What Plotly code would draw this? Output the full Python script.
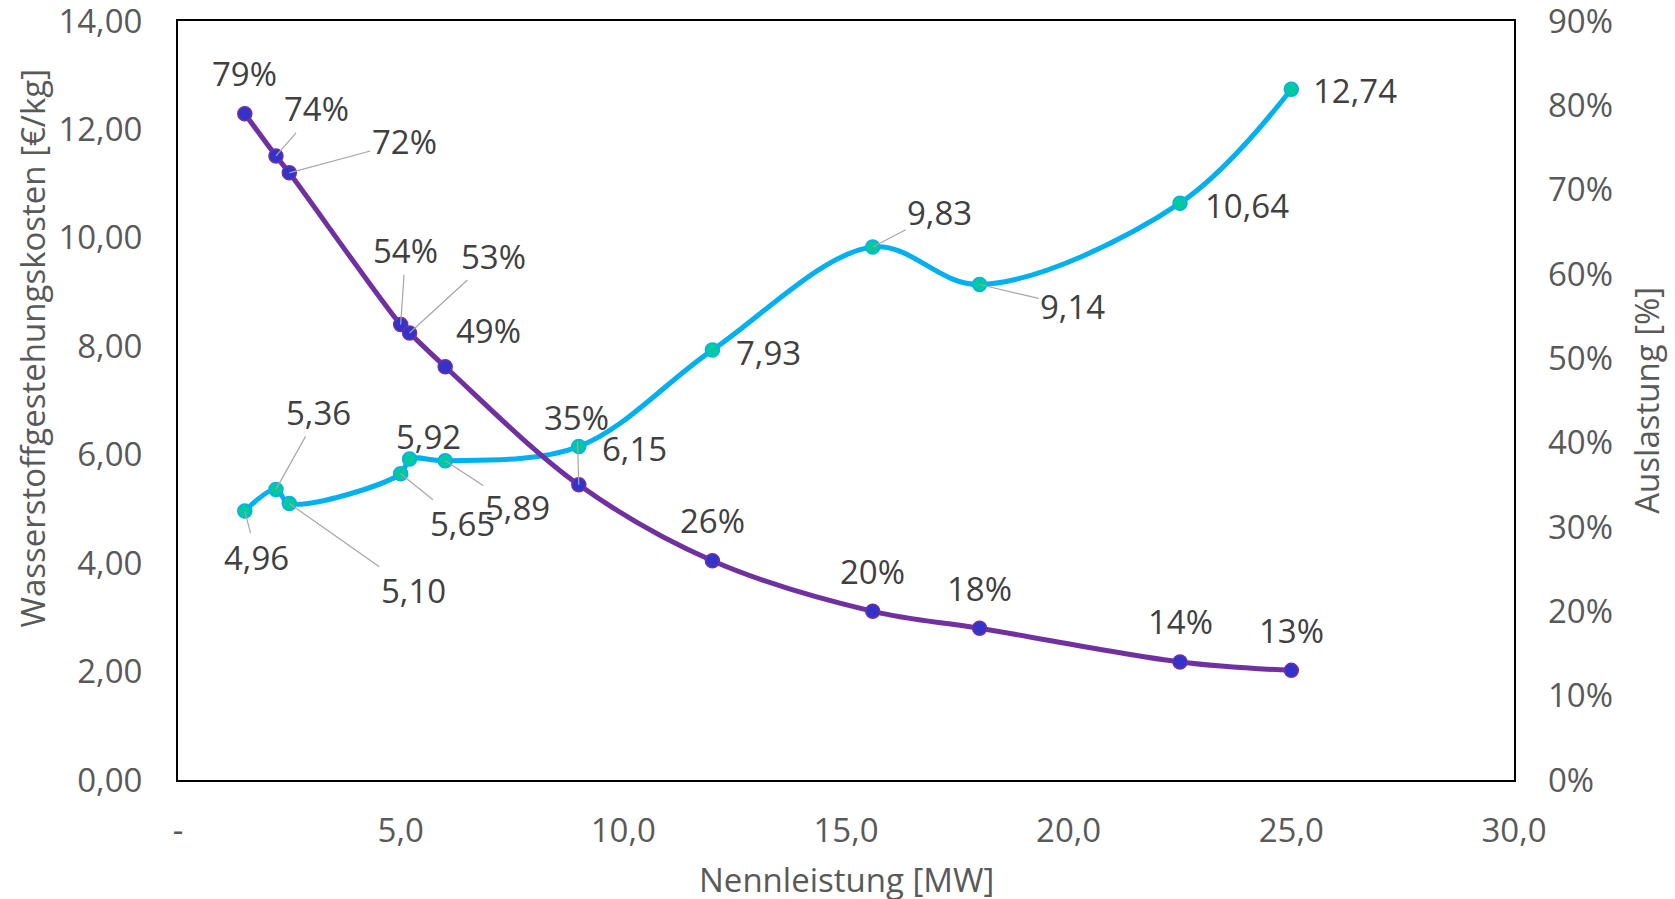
import plotly.graph_objects as go

# ---- data ----
leistung_mw = [1.5, 2.2, 2.5, 5.0, 5.2, 6.0, 9.0, 12.0, 15.6, 18.0, 22.5, 25.0]
kosten_eur_kg = [4.96, 5.36, 5.10, 5.65, 5.92, 5.89, 6.15, 7.93, 9.83, 9.14, 10.64, 12.74]
auslastung = [0.79, 0.74, 0.72, 0.54, 0.53, 0.49, 0.35, 0.26, 0.20, 0.18, 0.14, 0.13]
x_tickvals = [0, 5, 10, 15, 20, 25, 30]
x_ticktext = ["-", "5,0", "10,0", "15,0", "20,0", "25,0", "30,0"]

# ---- label styling (pixel offsets of labels, leader line flag) ----
cost_off = [(12, 46, True), (43, -77, True), (124, 87, True), (62, 50, True), (19, -23, False),
            (72, 47, True), (56, 2, False), (56, 2, False), (67, -35, True), (93, 22, True),
            (67, 2, False), (64, 1, False)]
util_off = [(0, -40, False), (41, -47, True), (115, -31, True), (5, -74, True), (84, -77, True),
            (43, -36, False), (-2, -67, True), (0, -40, False), (0, -40, False), (0, -40, False),
            (0, -40, False), (0, -40, False)]

FONT = "Open Sans"
TICK_COLOR = "#595959"
LABEL_COLOR = "#404040"
FS = 33

fig = go.Figure()
fig.add_trace(go.Scatter(
    x=leistung_mw, y=kosten_eur_kg, mode="lines+markers", yaxis="y",
    line=dict(color="#00B0F0", width=5, shape="spline", smoothing=1),
    marker=dict(size=14, color="#00C8A0", line=dict(color="#00B0F0", width=1.5)),
    showlegend=False))
fig.add_trace(go.Scatter(
    x=leistung_mw, y=auslastung, mode="lines+markers", yaxis="y2",
    line=dict(color="#7030A0", width=5, shape="spline", smoothing=1),
    marker=dict(size=14, color="#3333CC", line=dict(color="#7030A0", width=1.5)),
    showlegend=False))

annotations = []
for x, v, (dx, dy, lead) in zip(leistung_mw, kosten_eur_kg, cost_off):
    annotations.append(dict(
        x=x, y=v, xref="x", yref="y", text=f"{v:.2f}".replace(".", ","),
        showarrow=True, arrowhead=0, standoff=0, ax=dx, ay=dy,
        arrowwidth=1.2, arrowcolor="#A6A6A6" if lead else "rgba(0,0,0,0)",
        font=dict(family=FONT, size=FS, color=LABEL_COLOR)))
for x, v, (dx, dy, lead) in zip(leistung_mw, auslastung, util_off):
    annotations.append(dict(
        x=x, y=v, xref="x", yref="y2", text=f"{round(v * 100)}%",
        showarrow=True, arrowhead=0, standoff=0, ax=dx, ay=dy,
        arrowwidth=1.2, arrowcolor="#A6A6A6" if lead else "rgba(0,0,0,0)",
        font=dict(family=FONT, size=FS, color=LABEL_COLOR)))

# axis titles
annotations.append(dict(text="Wasserstoffgestehungskosten [€/kg]", xref="paper", yref="paper",
                        x=-0.109, y=0.569, textangle=-90, showarrow=False, xanchor="center", yanchor="middle",
                        font=dict(family=FONT, size=FS, color=TICK_COLOR)))
annotations.append(dict(text="Auslastung [%]", xref="paper", yref="paper",
                        x=1.099, y=0.5, textangle=-90, showarrow=False, xanchor="center", yanchor="middle",
                        font=dict(family=FONT, size=FS, color=TICK_COLOR)))
annotations.append(dict(text="Nennleistung [MW]", xref="paper", yref="paper",
                        x=0.5, y=-0.131, showarrow=False, xanchor="center", yanchor="middle",
                        font=dict(family=FONT, size=FS, color=TICK_COLOR)))

fig.update_layout(
    width=1675, height=899,
    margin=dict(l=178, r=161, t=21, b=119, autoexpand=False),
    paper_bgcolor="white", plot_bgcolor="white",
    separators=",.",
    font=dict(family=FONT, size=FS, color=TICK_COLOR),
    xaxis=dict(range=[0, 30], tickvals=x_tickvals, ticktext=x_ticktext, showgrid=False, zeroline=False,
               showline=True, linecolor="black", linewidth=2, mirror=True, ticks="",
               ticklabelstandoff=20, ticklabeloverflow="allow", automargin=False,
               tickfont=dict(family=FONT, size=FS, color=TICK_COLOR)),
    yaxis=dict(range=[0, 14], dtick=2, tickformat=".2f", showgrid=False, zeroline=False,
               showline=True, linecolor="black", linewidth=2, mirror=True, ticks="",
               ticklabelstandoff=27, ticklabeloverflow="allow", automargin=False,
               tickfont=dict(family=FONT, size=FS, color=TICK_COLOR)),
    yaxis2=dict(range=[0, 0.9], dtick=0.1, tickformat=".0%", overlaying="y", side="right",
                showgrid=False, zeroline=False, showline=False, ticks="",
                ticklabelstandoff=33, ticklabeloverflow="allow", automargin=False,
                tickfont=dict(family=FONT, size=FS, color=TICK_COLOR)),
    annotations=annotations,
)

fig.write_html("out.html", config={"displayModeBar": False},
               post_script="document.body.style.margin='0px';")
